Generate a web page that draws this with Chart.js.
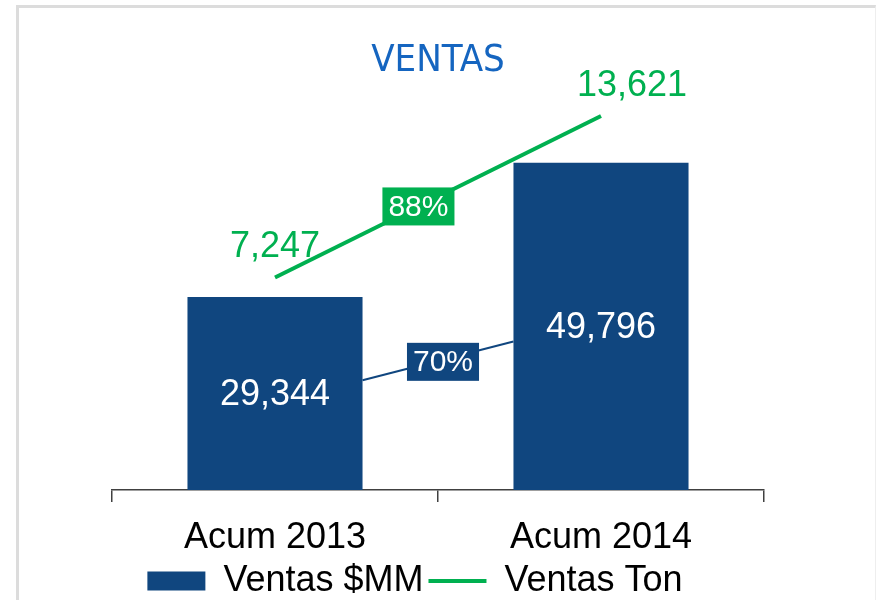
<!DOCTYPE html>
<html>
<head>
<meta charset="utf-8">
<script src="https://cdn.jsdelivr.net/npm/chart.js@4.4.1/dist/chart.umd.min.js"></script>
<style>
  html, body { margin: 0; padding: 0; background: #fff; }
  #frame {
    position: absolute; left: 16px; top: 5px; width: 856px; height: 620px;
    border-top: 3px solid #dcdcdc; border-left: 3px solid #dcdcdc; border-right: 1px solid #eeeeee;
  }
  #wrap { position: absolute; left: 0; top: 0; width: 877px; height: 600px; }
</style>
</head>
<body>
<div id="frame"></div>
<div id="wrap"><canvas id="ventasChart" width="877" height="600"></canvas></div>
<script>
// data
const categories = ['Acum 2013', 'Acum 2014'];
const ventasMM = [29344, 49796];
const ventasTon = [7247, 13621];
// where the growth connector meets the bars (in $MM units)
const connectorMM = [16700, 22600];

const BLUE = '#10467f';
const GREEN = '#00b050';
const FONT = "'Liberation Sans', Arial, sans-serif";
const NARROW = "'Liberation Sans Narrow', 'Arial Narrow', 'DejaVu Sans Condensed', sans-serif";

const fmt = v => v.toLocaleString('en-US');
const growth = arr => Math.round((arr[1] / arr[0] - 1) * 100) + '%';

function drawTag(ctx, text, x, y, bg) {
  ctx.font = '30px ' + FONT;
  const w = ctx.measureText(text).width + 12;
  const h = 38;
  ctx.fillStyle = bg;
  ctx.fillRect(x - w / 2, y - h / 2, w, h);
  ctx.fillStyle = '#fff';
  ctx.textAlign = 'center';
  ctx.textBaseline = 'middle';
  ctx.fillText(text, x, y + 1);
}

const labelsPlugin = {
  id: 'ventasLabels',
  afterDatasetsDraw(chart) {
    const ctx = chart.ctx;
    const y = chart.scales.y;
    const bars = chart.getDatasetMeta(0).data;
    const pts = chart.getDatasetMeta(1).data;
    ctx.save();

    // connector between the two bars
    const x0 = bars[0].x + bars[0].width / 2;
    const x1 = bars[1].x - bars[1].width / 2;
    const y0 = y.getPixelForValue(connectorMM[0]);
    const y1 = y.getPixelForValue(connectorMM[1]);
    ctx.strokeStyle = BLUE;
    ctx.lineWidth = 2;
    ctx.beginPath();
    ctx.moveTo(x0, y0);
    ctx.lineTo(x1, y1);
    ctx.stroke();

    // bar values
    ctx.font = '36px ' + FONT;
    ctx.textAlign = 'center';
    ctx.textBaseline = 'middle';
    ctx.fillStyle = '#fff';
    bars.forEach((b, i) => {
      ctx.fillText(fmt(ventasMM[i]), b.x, (b.y + b.base) / 2 + 2);
    });

    // line values
    ctx.fillStyle = GREEN;
    const dx = [0, 31];
    pts.forEach((p, i) => {
      ctx.fillText(fmt(ventasTon[i]), p.x + dx[i], p.y - 30);
    });

    // growth tags
    const t = 0.44;
    drawTag(ctx, growth(ventasTon), pts[0].x + (pts[1].x - pts[0].x) * t,
      pts[0].y + (pts[1].y - pts[0].y) * t, GREEN);
    drawTag(ctx, growth(ventasMM), (x0 + x1) / 2 + 5, (y0 + y1) / 2 + 1, BLUE);

    ctx.restore();
  }
};

const ctx = document.getElementById('ventasChart').getContext('2d');
new Chart(ctx, {
  data: {
    labels: categories,
    datasets: [
      {
        type: 'bar',
        label: 'Ventas $MM',
        data: ventasMM,
        backgroundColor: BLUE,
        borderWidth: 0,
        categoryPercentage: 1,
        barPercentage: 0.537,
        pointStyle: 'rect',
        yAxisID: 'y',
        order: 1
      },
      {
        type: 'line',
        label: 'Ventas Ton',
        data: ventasTon,
        borderColor: GREEN,
        backgroundColor: GREEN,
        borderWidth: 4,
        pointRadius: 0,
        pointStyle: 'line',
        clip: false,
        yAxisID: 'y1',
        order: 0
      }
    ]
  },
  options: {
    responsive: false,
    animation: false,
    layout: { padding: { left: 66, right: 113, top: 0, bottom: -9 } },
    scales: {
      x: {
        offset: true,
        grid: { display: true, drawOnChartArea: false, drawTicks: true, tickLength: 12, offset: true, color: '#404040', lineWidth: 1.5 },
        border: { display: true, color: '#404040', width: 1.5 },
        ticks: { color: '#000', font: { family: FONT, size: 36 }, padding: 14 },
        afterFit(scale) { scale.height = 68; }
      },
      y: {
        min: 0, max: 60000,
        ticks: { display: false },
        grid: { display: false },
        border: { display: false },
        afterFit(scale) { scale.width = 46; }
      },
      y1: {
        display: false,
        min: -1134, max: 14424
      }
    },
    plugins: {
      title: {
        display: true,
        text: 'VENTAS',
        color: '#1565c0',
        fullSize: false,
        font: { family: NARROW, size: 38, weight: 'normal' },
        padding: { top: 38, bottom: 12 }
      },
      legend: {
        position: 'bottom',
        labels: {
          usePointStyle: true,
          pointStyleWidth: 58,
          boxHeight: 19,
          padding: 5,
          color: '#000',
          font: { family: FONT, size: 36 },
          sort: (a, b) => a.datasetIndex - b.datasetIndex
        }
      },
      tooltip: { enabled: false }
    }
  },
  plugins: [labelsPlugin]
});
</script>
</body>
</html>
